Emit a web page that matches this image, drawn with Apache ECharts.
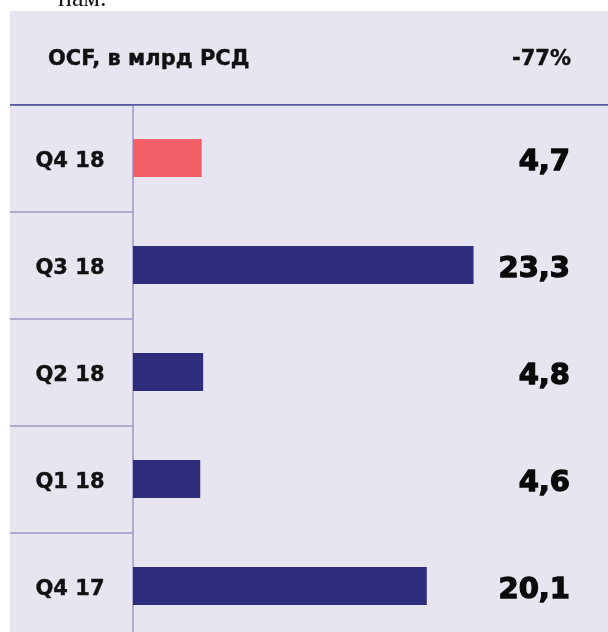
<!DOCTYPE html>
<html>
<head>
<meta charset="utf-8">
<script src="https://cdn.jsdelivr.net/npm/echarts@6/dist/echarts.min.js"></script>
<style>
html,body{margin:0;padding:0;background:#ffffff;}
#chart{width:608px;height:632px;}
</style>
</head>
<body>
<div id="chart"></div>
<script>
const categories = ['Q4 18', 'Q3 18', 'Q2 18', 'Q1 18', 'Q4 17'];
const values = [4.7, 23.3, 4.8, 4.6, 20.1];
const headerTitle = 'OCF, в млрд РСД';
const headerChange = '-77%';
const topText = 'нам.';

const NAVY = '#2e2d7c';
const RED = '#f25f66';
const PANEL = '#e7e6f0';
const LINE = '#9c98c6';
const FONT = 'DejaVu Sans';

const chart = echarts.init(document.getElementById('chart'), null, {renderer: 'canvas'});

const valueLabels = values.map(v => v.toFixed(1).replace('.', ','));

const option = {
  backgroundColor: '#ffffff',
  animation: false,
  grid: {left: 133, top: 104.5, width: 475, height: 535, outerBoundsMode: 'none', containLabel: false},
  xAxis: {
    type: 'value', min: 0, max: 32.5,
    show: false
  },
  yAxis: [
    {
      type: 'category', data: categories, inverse: true,
      position: 'left',
      axisLine: {show: true, lineStyle: {color: LINE, width: 1.5}},
      axisTick: {show: true, length: 123, lineStyle: {color: LINE, width: 1.5}},
      axisLabel: {
        align: 'center', margin: 63,
        formatter: v => '{c|' + v + '}',
        rich: {
          c: {
            padding: [8, 0, 0, 0],
            fontFamily: FONT, fontWeight: 'bold', fontSize: 21, color: '#111111',
            textBorderColor: '#111111', textBorderWidth: 0.4
          }
        }
      },
      splitLine: {show: false}
    },
    {
      type: 'category', data: valueLabels, inverse: true,
      position: 'right',
      axisLine: {show: false}, axisTick: {show: false},
      axisLabel: {
        inside: true, margin: 38, align: 'right',
        formatter: v => '{v|' + v + '}',
        rich: {
          v: {
            padding: [9, 0, 0, 0],
            fontFamily: FONT, fontWeight: 'bold', fontSize: 29, color: '#0a0a0a',
            textBorderColor: '#0a0a0a', textBorderWidth: 1.3
          }
        }
      },
      splitLine: {show: false}
    }
  ],
  series: [{
    type: 'bar',
    data: values,
    barWidth: 38,
    yAxisIndex: 0,
    itemStyle: {color: p => p.dataIndex === 0 ? RED : NAVY},
    z: 3
  }],
  graphic: [
    {type: 'rect', z: -100, shape: {x: 10, y: 11, width: 598, height: 621}, style: {fill: PANEL}},
    {type: 'text', z: 10, left: 58, top: -14, style: {text: topText, font: '26px "Liberation Serif"', fill: '#111111'}},
    {type: 'line', z: 10, shape: {x1: 10, y1: 104.8, x2: 608, y2: 104.8}, style: {stroke: '#5b5a9c', lineWidth: 1.8}},
    {type: 'text', z: 10, x: 48, y: 60, style: {text: headerTitle, font: 'bold 21px "DejaVu Sans"', fill: '#111111', stroke: '#111111', lineWidth: 0.4, verticalAlign: 'middle', textVerticalAlign: 'middle'}},
    {type: 'text', z: 10, x: 571, y: 60, style: {text: headerChange, font: 'bold 21px "DejaVu Sans"', fill: '#111111', stroke: '#111111', lineWidth: 0.4, align: 'right', textAlign: 'right', verticalAlign: 'middle', textVerticalAlign: 'middle'}}
  ]
};
chart.setOption(option);
</script>
</body>
</html>
